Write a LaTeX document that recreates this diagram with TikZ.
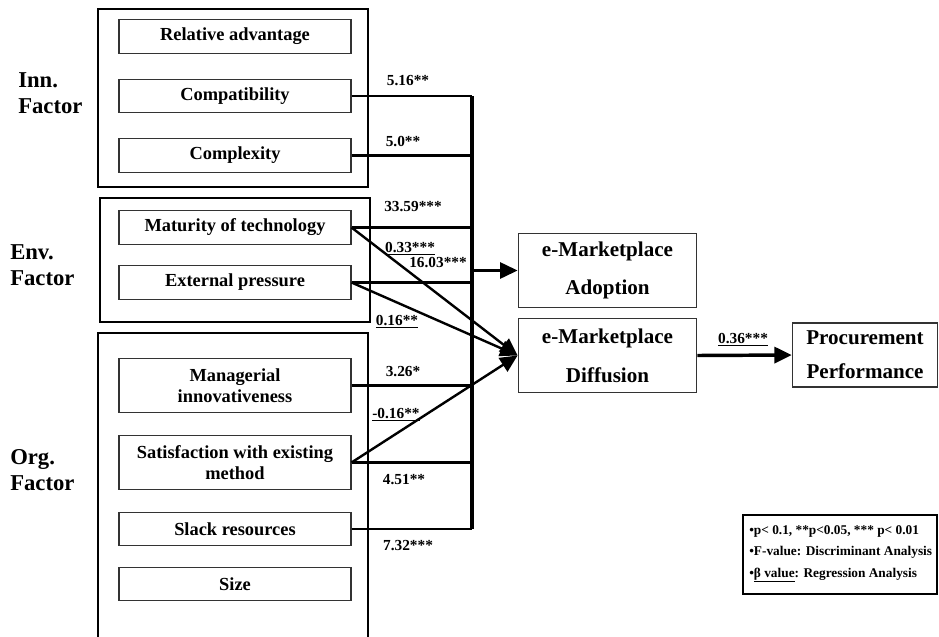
\documentclass[tikz,border=0pt]{standalone}
\usepackage{fontspec}
\setmainfont{Liberation Serif}
\usetikzlibrary{arrows.meta,positioning}

\begin{document}
\begin{tikzpicture}[x=0.75pt,y=-0.75pt,>={Triangle[length=13pt,width=12pt]},
  font=\bfseries,
  grp/.style={line width=2.2pt},
  item/.style={draw=black!80,line width=0.8pt,minimum width=174pt,minimum height=25pt,
    inner sep=1pt,align=center,font=\fontsize{13.8}{15.5}\selectfont\bfseries},
  tall/.style={item,minimum height=41pt},
  factor/.style={anchor=west,align=left,inner sep=0pt,font=\fontsize{17}{19.5}\selectfont\bfseries},
  goal/.style={draw=black!80,line width=0.9pt,minimum width=134pt,minimum height=56pt,
    inner sep=1pt,align=center,font=\fontsize{15.8}{29}\selectfont\bfseries},
  link/.style={line width=1.8pt},
  val/.style={inner sep=1pt,font=\fontsize{11.5}{13}\selectfont\bfseries}]
\useasboundingbox (0,0) rectangle (939,636);
\fill[white] (0,0) rectangle (939,636);
% factor groups
\draw[grp] (98,9) rectangle (368,187);
\draw[grp] (100,198) rectangle (370,322);
\draw[grp] (98,333) rectangle (368,640);
\node[factor] (inn) at (18,93) {Inn.\\Factor};
\node[factor] (env) at (10,265) {Env.\\Factor};
\node[factor] (org) at (10,470) {Org.\\Factor};
% variables
\node[item] (relad) at (235,36.5) {Relative advantage};
\node[item] (compat) at (235,96) {Compatibility};
\node[item] (complex) at (235,155.5) {Complexity};
\node[item] (matur) at (235,227.5) {Maturity of technology};
\node[item] (extpr) at (235,282.5) {External pressure};
\node[tall] (manag) at (235,385.5) {Managerial\\innovativeness};
\node[tall] (satis) at (235,462.5) {Satisfaction with existing\\method};
\node[item] (slack) at (235,529) {Slack resources};
\node[item] (size) at (235,584) {Size};
% outcomes
\node[goal] (adopt) at (607.5,270.5) {e-Marketplace\\Adoption};
\node[goal] (diff) at (607.5,355.5) {e-Marketplace\\Diffusion};
\node[goal,minimum width=109pt,minimum height=48pt,font=\fontsize{15.8}{25.5}\selectfont\bfseries]
  (perf) at (865,355) {Procurement\\Performance};
% discriminant paths into the bus
\coordinate (bustop) at (472,96);
\coordinate (busbot) at (472,529);
\coordinate (busout) at (472,270.5);
\draw[line width=2.4pt] (bustop) -- (busbot);
\foreach \v in {compat,complex,matur,extpr,manag,satis,slack}
  \draw[link] (\v.east) -- (\v.east -| bustop);
\draw[link,->] (busout) -- (adopt.west);
% regression paths
\draw[link,->] (matur.east) -- (diff.west);
\draw[link,->] (extpr.east) -- (diff.west);
\draw[link,->] (satis.east) -- (diff.west);
\draw[line width=2.6pt,->] (diff.east) -- (perf.west);
% path values
\node[val] (f1) at (408,81) {5.16**};
\node[val] (f2) at (403,142) {5.0**};
\node[val] (f3) at (413,207) {33.59***};
\node[val] (b1) at (410,249) {\underline{0.33***}};
\node[val] (f4) at (438,263) {16.03***};
\node[val] (b2) at (397,322) {\underline{0.16**}};
\node[val] (f5) at (403,372) {3.26*};
\node[val] (b3) at (396,415) {\underline{-0.16**}};
\node[val] (f6) at (404,480) {4.51**};
\node[val] (f7) at (408,546) {7.32***};
\node[val] (b4) at (743,340) {\underline{0.36***}};
% legend
\draw[line width=1.6pt] (743,515) rectangle (937,594);
\node[anchor=west,align=left,inner sep=0pt,font=\fontsize{10}{16}\selectfont\bfseries]
  (key) at (749,554) {•p< 0.1, **p<0.05, *** p< 0.01\\•F-value: Discriminant Analysis\\•\underline{β value}: Regression Analysis};
\end{tikzpicture}
\end{document}
